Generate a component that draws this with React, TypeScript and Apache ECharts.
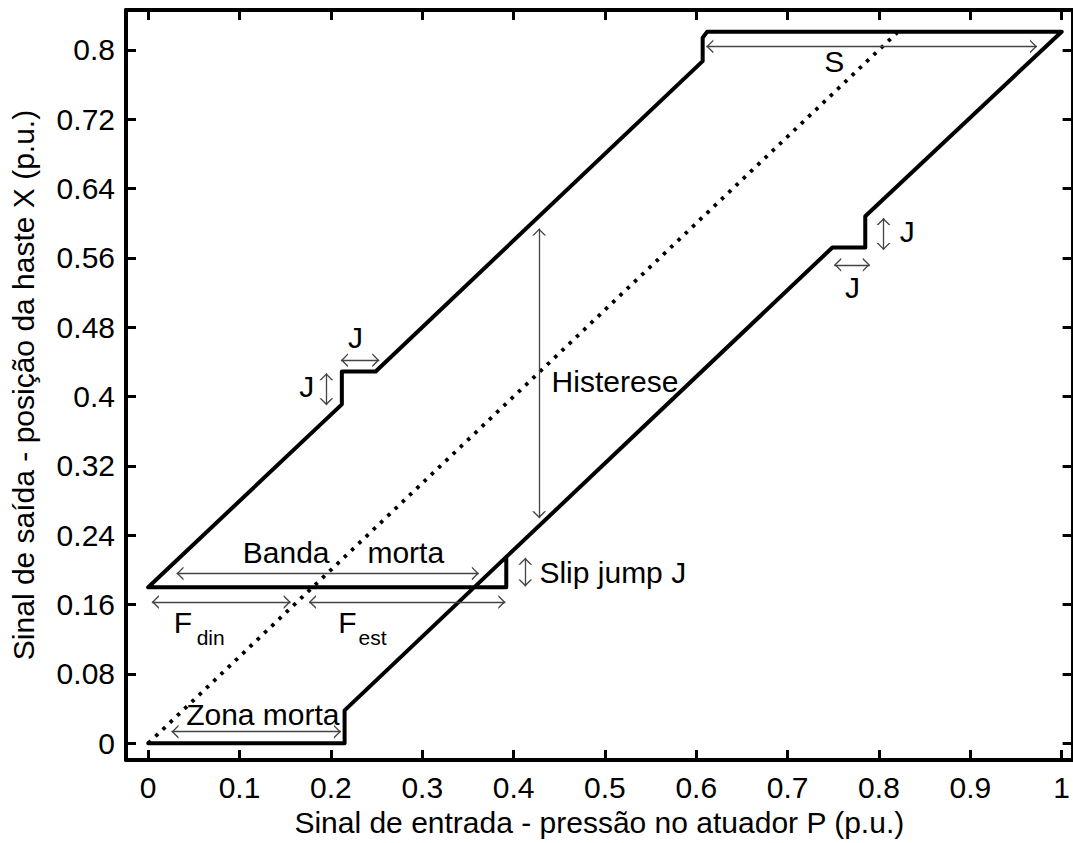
import React, { useEffect, useRef } from "react";
import * as echarts from "echarts";

const xTicks = [0, 0.1, 0.2, 0.3, 0.4, 0.5, 0.6, 0.7, 0.8, 0.9, 1];
const yTicks = [0, 0.08, 0.16, 0.24, 0.32, 0.4, 0.48, 0.56, 0.64, 0.72, 0.8];

// Hysteresis loop of the valve (P, X)
const hysteresisLoop: [number, number][] = [
  [0, 0], [0.215, 0], [0.215, 0.038], [0.392, 0.215], [0.749, 0.572],
  [0.785, 0.572], [0.785, 0.608], [1.0, 0.821], [0.612, 0.821], [0.607, 0.814],
  [0.607, 0.787], [0.249, 0.429], [0.212, 0.429], [0.212, 0.391], [0, 0.18],
  [0.392, 0.18], [0.392, 0.214],
];

// Ideal (linear) response
const idealLine: [number, number][] = [[0, 0], [0.82, 0.82]];

// Double-arrow annotations [x1, y1, x2, y2]
const annotationArrows: number[][] = [
  [0.611, 0.804, 0.973, 0.804],
  [0.428, 0.594, 0.428, 0.2596],
  [0.031, 0.196, 0.362, 0.196],
  [0.004, 0.163, 0.156, 0.163],
  [0.176, 0.163, 0.391, 0.163],
  [0.4128, 0.214, 0.4128, 0.181],
  [0.0255, 0.0134, 0.211, 0.0134],
  [0.211, 0.442, 0.253, 0.442],
  [0.195, 0.427, 0.195, 0.39],
  [0.805, 0.606, 0.805, 0.569],
  [0.751, 0.552, 0.79, 0.552],
];

// Annotation texts [text, x, y]
const annotationLabels: [string, number, number][] = [
  ["S", 0.751, 0.787],
  ["Histerese", 0.511, 0.4175],
  ["Banda", 0.151, 0.2198],
  ["morta", 0.282, 0.2198],
  ["F", 0.038, 0.1394],
  ["F", 0.218, 0.1394],
  ["Slip jump J", 0.5086, 0.197],
  ["Zona morta", 0.1255, 0.0332],
  ["J", 0.227, 0.468],
  ["J", 0.1737, 0.412],
  ["J", 0.831, 0.591],
  ["J", 0.7711, 0.5256],
];

const subscriptLabels: [string, number, number][] = [
  ["din", 0.0684, 0.122],
  ["est", 0.2455, 0.122],
];

const FONT = "'Liberation Sans', Arial, Helvetica, sans-serif";
const CHEVRON =
  "path://M7,0 L7.01,0 L7,0.01 Z M0,14 L7,7 L14,14 L12.1,14 L7,8.9 L1.9,14 Z";

export default function App() {
  const ref = useRef<HTMLDivElement>(null);

  useEffect(() => {
    if (!ref.current) return;
    const chart = echarts.init(ref.current, null, { renderer: "svg" });

    const axisLine = { show: true, onZero: false, lineStyle: { color: "#000", width: 4 } };
    const tick = (vals: number[]) => ({
      show: true,
      inside: true,
      length: 10,
      lineStyle: { color: "#000", width: 3 },
      customValues: vals,
    });
    const label = (vals: number[], margin: number) => ({
      show: true,
      customValues: vals,
      fontSize: 30,
      color: "#000",
      fontFamily: FONT,
      margin,
      formatter: (v: number) => String(v),
    });
    const textLabelSeries = (items: [string, number, number][], size: number) => ({
      type: "scatter",
      silent: true,
      symbolSize: 1,
      itemStyle: { color: "rgba(0,0,0,0)", opacity: 1 },
      label: {
        show: true,
        position: "inside",
        formatter: "{b}",
        fontSize: size,
        color: "#000",
        opacity: 1,
        textBorderWidth: 0,
        fontFamily: FONT,
      },
      emphasis: { disabled: true },
      data: items.map((l) => ({ name: l[0], value: [l[1], l[2]] })),
    });

    const option: any = {
      animation: false,
      backgroundColor: "#fff",
      textStyle: { fontFamily: FONT },
      grid: { left: 126, top: 10, width: 950, height: 750 },
      xAxis: [
        {
          type: "value",
          position: "bottom",
          min: -0.0243,
          max: 1.012,
          axisLine,
          axisTick: tick(xTicks),
          axisLabel: label(xTicks, 12),
          splitLine: { show: false },
          name: "Sinal de entrada - pressão no atuador P (p.u.)",
          nameLocation: "middle",
          nameGap: 47,
          nameTextStyle: { fontSize: 30, color: "#000", fontFamily: FONT },
        },
        {
          type: "value",
          position: "top",
          min: -0.0243,
          max: 1.012,
          axisLine,
          axisTick: tick(xTicks),
          axisLabel: { show: false },
          splitLine: { show: false },
        },
      ],
      yAxis: [
        {
          type: "value",
          position: "left",
          min: -0.0193,
          max: 0.846,
          axisLine,
          axisTick: tick(yTicks),
          axisLabel: label(yTicks, 11),
          splitLine: { show: false },
          name: "Sinal de saída - posição da haste X (p.u.)",
          nameLocation: "middle",
          nameGap: 88,
          nameTextStyle: { fontSize: 30, color: "#000", fontFamily: FONT },
        },
        {
          type: "value",
          position: "right",
          min: -0.0193,
          max: 0.846,
          axisLine,
          axisTick: tick(yTicks),
          axisLabel: { show: false },
          splitLine: { show: false },
        },
      ],
      series: [
        {
          type: "line",
          data: idealLine,
          symbol: "none",
          silent: true,
          lineStyle: { color: "#000", width: 3.8, type: [3.5, 6.5], cap: "butt" },
        },
        {
          type: "line",
          data: hysteresisLoop,
          symbol: "none",
          silent: true,
          lineStyle: { color: "#000", width: 4, join: "round", cap: "round" },
          markLine: {
            silent: true,
            symbol: [CHEVRON, CHEVRON],
            symbolSize: 14,
            label: { show: false },
            lineStyle: { color: "#444", width: 1.3, type: "solid" },
            emphasis: { disabled: true },
            data: annotationArrows.map((a) => [
              { coord: [a[0], a[1]] },
              { coord: [a[2], a[3]] },
            ]),
          },
        },
        textLabelSeries(annotationLabels, 30),
        textLabelSeries(subscriptLabels, 21),
      ],
    };

    chart.setOption(option);
    return () => chart.dispose();
  }, []);

  return (
    <div
      ref={ref}
      style={{ position: "absolute", left: 0, top: 0, width: 1073, height: 843 }}
    />
  );
}
